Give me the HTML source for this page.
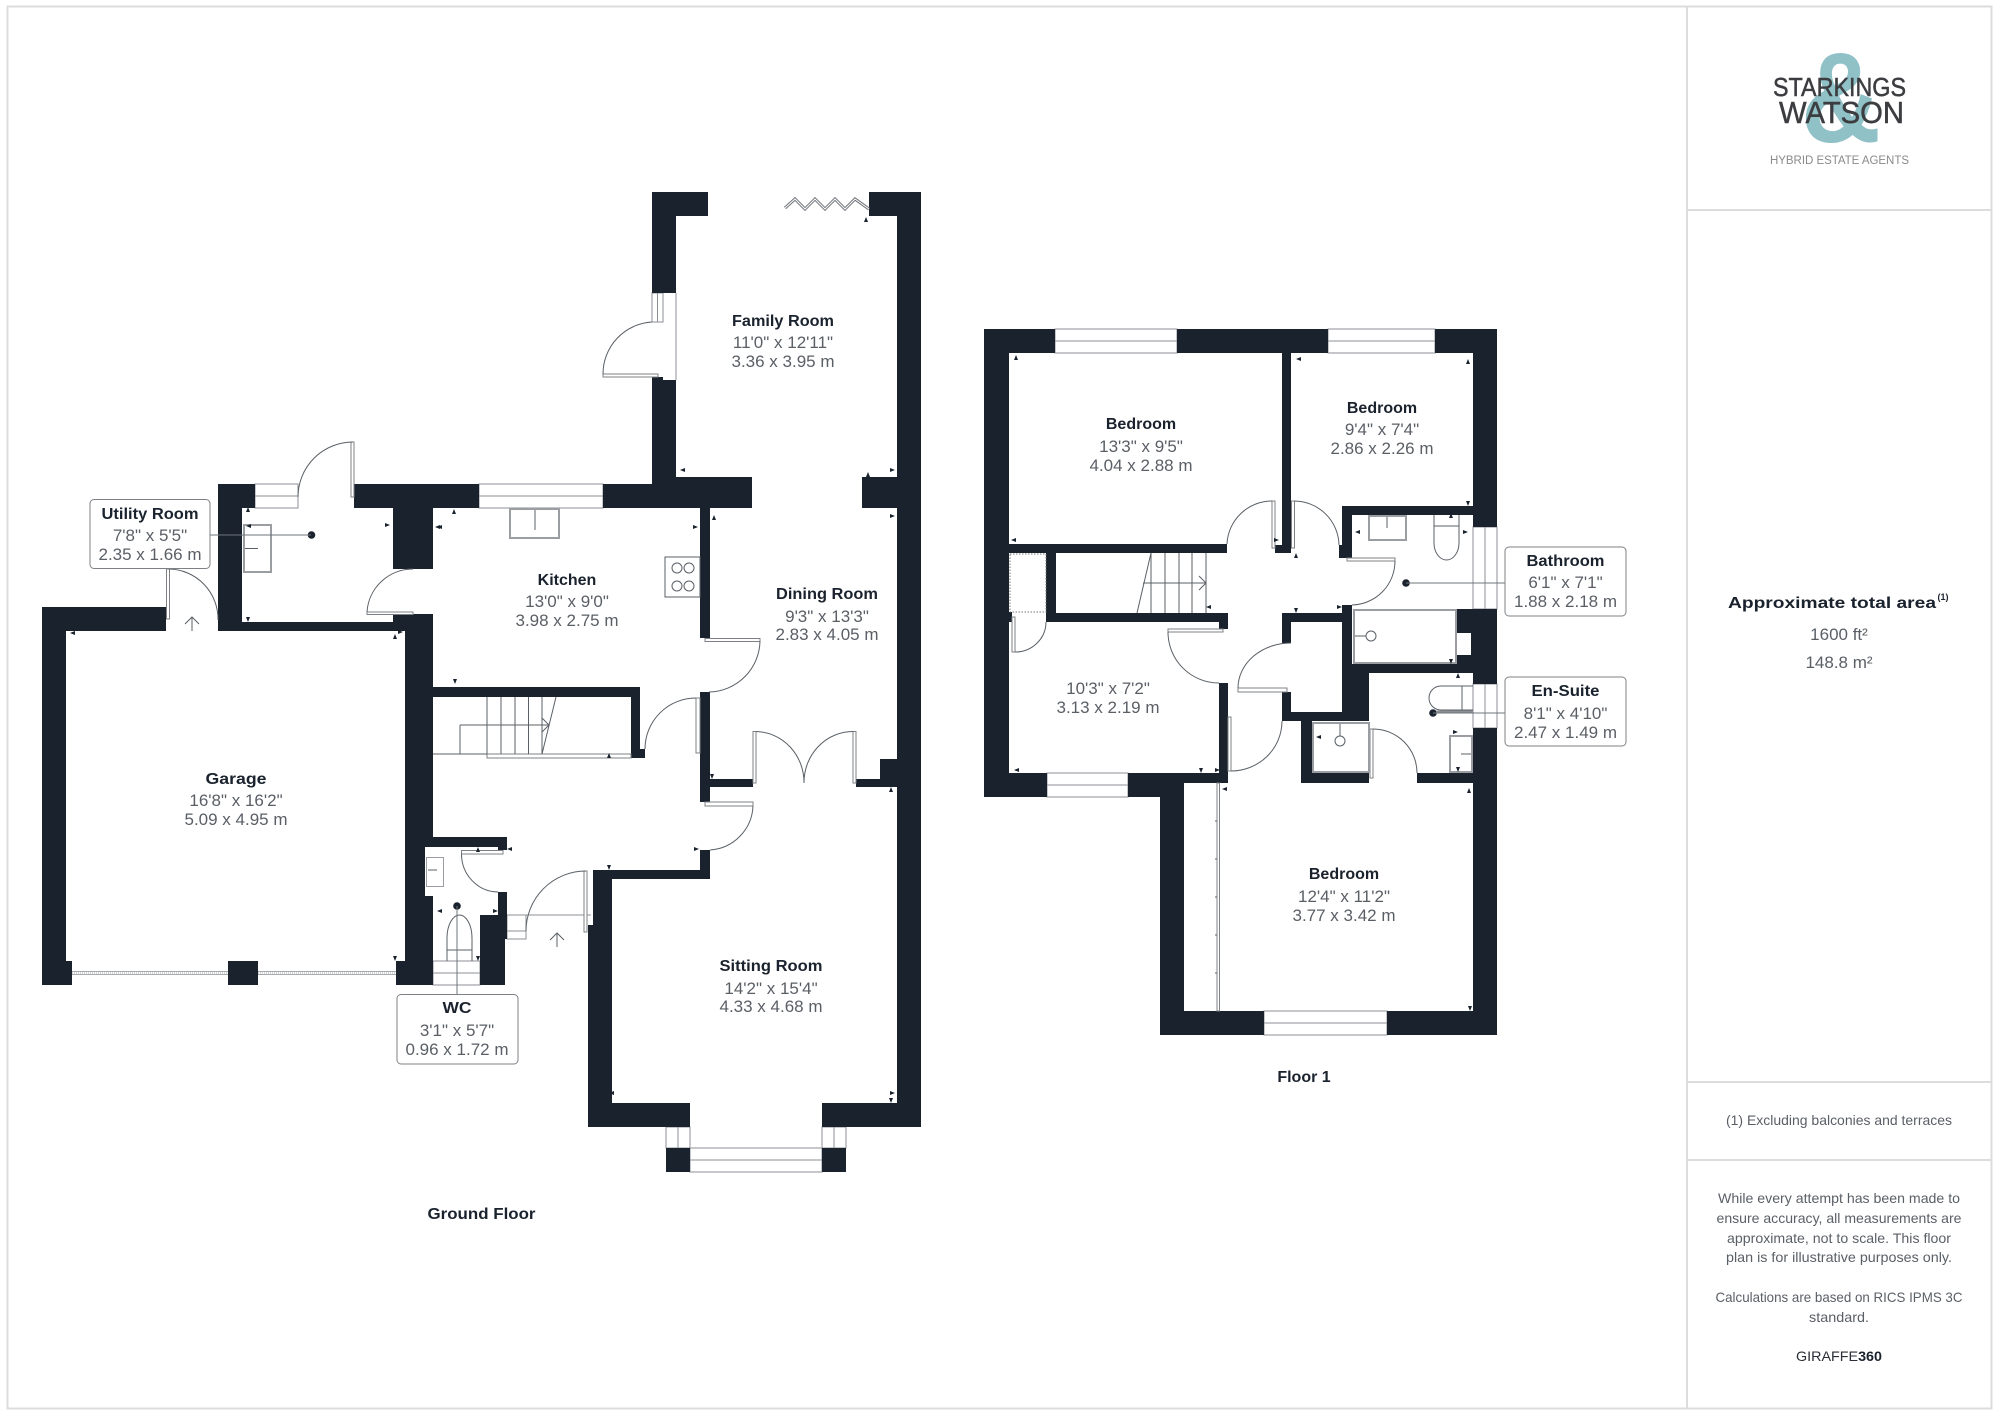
<!DOCTYPE html>
<html><head><meta charset="utf-8"><style>
html,body{margin:0;padding:0;background:#fff}
svg{display:block}
text{font-family:"Liberation Sans",sans-serif;text-anchor:middle}
.t{font-size:16px;font-weight:bold;fill:#1a222d}
.d{font-size:17px;fill:#5a5f66}
.s{font-size:13.6px;fill:#5a5f66}
.w rect{fill:#1a222d}
.l{fill:none;stroke:#5a6066;stroke-width:1}
.g{fill:#fff;stroke:#8b8f94;stroke-width:1}
.b{fill:#fff;stroke:#7d8186;stroke-width:1}
.f{fill:none;stroke:#9a9ea2;stroke-width:2}
</style></head><body>
<svg width="2000" height="1415" viewBox="0 0 2000 1415" xmlns="http://www.w3.org/2000/svg">
<rect width="2000" height="1415" fill="#fff"/>
<!-- frame -->
<g fill="none" stroke="#dcdcdc" stroke-width="2">
<rect x="7.5" y="6.5" width="1984" height="1402"/>
<path d="M1687 6V1408M1687 210H1992M1687 1082H1992M1687 1160H1992"/>
</g>
<!-- window and thin items below walls -->
<g class="g">
<rect x="255" y="484" width="43" height="24"/><path d="M255 496H298"/>
<rect x="479" y="484" width="124" height="24"/><path d="M479 496H603"/>
<rect x="652" y="293" width="11" height="29"/><path d="M657.500 293V322"/>
<path d="M676 293V380"/>
<rect x="433" y="961" width="47" height="24"/><path d="M433 973H480"/>
<rect x="507" y="915" width="19" height="24"/><path d="M507 931H526"/>
<path d="M507 915H591"/>
<rect x="690" y="1148" width="132" height="24"/><path d="M690 1160H822"/>
<rect x="666" y="1127" width="24" height="21"/><path d="M678 1127V1148"/>
<rect x="822" y="1127" width="24" height="21"/><path d="M834 1127V1148"/>
<rect x="1055" y="329" width="122" height="24"/><path d="M1055 341H1177"/>
<rect x="1328" y="329" width="107" height="24"/><path d="M1328 341H1435"/>
<rect x="1473" y="527" width="24" height="82"/><path d="M1485 527V609"/>
<rect x="1473" y="684" width="24" height="44"/><path d="M1485 684V728"/>
<rect x="1047" y="773" width="81" height="24"/><path d="M1047 785H1128"/>
<rect x="1264" y="1011" width="123" height="24"/><path d="M1264 1023H1387"/>
</g>
<!-- walls -->
<g class="w">
<rect x="42" y="607" width="124" height="24"/>
<rect x="42" y="607" width="24" height="378"/>
<rect x="42" y="961" width="30" height="24"/>
<rect x="228" y="961" width="30" height="24"/>
<rect x="396" y="961" width="37" height="24"/>
<rect x="405" y="631" width="28" height="216"/>
<rect x="405" y="847" width="20" height="49"/>
<rect x="405" y="896" width="28" height="89"/>
<rect x="218" y="484" width="24" height="147"/>
<rect x="218" y="484" width="37" height="24"/>
<rect x="354" y="484" width="125" height="24"/>
<rect x="393" y="508" width="40" height="61"/>
<rect x="218" y="622" width="175" height="9"/>
<rect x="393" y="614" width="40" height="17"/>
<rect x="603" y="484" width="73" height="24"/>
<rect x="652" y="192" width="24" height="101"/>
<rect x="652" y="192" width="56" height="24"/>
<rect x="652" y="377" width="11" height="3"/>
<rect x="652" y="380" width="24" height="104"/>
<rect x="676" y="477" width="76" height="31"/>
<rect x="862" y="477" width="35" height="31"/>
<rect x="897" y="192" width="24" height="935"/>
<rect x="869" y="192" width="28" height="24"/>
<rect x="700" y="508" width="10" height="130"/>
<rect x="433" y="687" width="207" height="10"/>
<rect x="631" y="697" width="9" height="61"/>
<rect x="631" y="749" width="14" height="9"/>
<rect x="700" y="692" width="10" height="110"/>
<rect x="710" y="779" width="43" height="8"/>
<rect x="856" y="779" width="41" height="8"/>
<rect x="880" y="759" width="17" height="28"/>
<rect x="700" y="850" width="10" height="29"/>
<rect x="593" y="870" width="117" height="9"/>
<rect x="593" y="870" width="19" height="55"/>
<rect x="588" y="925" width="24" height="202"/>
<rect x="588" y="1103" width="102" height="24"/>
<rect x="822" y="1103" width="99" height="24"/>
<rect x="666" y="1148" width="24" height="24"/>
<rect x="822" y="1148" width="24" height="24"/>
<rect x="433" y="837" width="74" height="10"/>
<rect x="498" y="847" width="9" height="3"/>
<rect x="498" y="892" width="9" height="47"/>
<rect x="480" y="915" width="27" height="24"/>
<rect x="480" y="939" width="25" height="46"/>
<!-- floor 1 -->
<rect x="984" y="329" width="71" height="24"/>
<rect x="1177" y="329" width="151" height="24"/>
<rect x="1435" y="329" width="62" height="24"/>
<rect x="984" y="329" width="25" height="468"/>
<rect x="1282" y="353" width="9" height="200"/>
<rect x="1275" y="545" width="16" height="8"/>
<rect x="1009" y="544" width="218" height="9"/>
<rect x="1046" y="553" width="10" height="69"/>
<rect x="1046" y="613" width="182" height="9"/>
<rect x="1219" y="613" width="9" height="16"/>
<rect x="1009" y="612" width="3" height="10"/>
<rect x="1219" y="683" width="9" height="99"/>
<rect x="1473" y="329" width="24" height="198"/>
<rect x="1342" y="506" width="131" height="9"/>
<rect x="1342" y="506" width="10" height="52"/>
<rect x="1339" y="545" width="5" height="13"/>
<rect x="1282" y="613" width="70" height="9"/>
<rect x="1282" y="622" width="9" height="21"/>
<rect x="1282" y="692" width="9" height="29"/>
<rect x="1282" y="712" width="87" height="9"/>
<rect x="1342" y="605" width="10" height="116"/>
<rect x="1342" y="664" width="27" height="57"/>
<rect x="1342" y="664" width="131" height="9"/>
<rect x="1456" y="609" width="41" height="55"/>
<rect x="1473" y="609" width="24" height="75"/>
<rect x="1473" y="728" width="24" height="307"/>
<rect x="1301" y="721" width="11" height="62"/>
<rect x="1301" y="773" width="68" height="10"/>
<rect x="1417" y="773" width="56" height="10"/>
<rect x="1160" y="1011" width="104" height="24"/>
<rect x="1387" y="1011" width="110" height="24"/>
<rect x="1160" y="773" width="24" height="262"/>
<rect x="984" y="773" width="63" height="24"/>
<rect x="1128" y="773" width="100" height="10"/>
<rect x="1128" y="783" width="56" height="14"/>
</g>
<rect x="1457" y="633" width="14" height="22" fill="#fff"/>
<!-- garage door -->
<g stroke="#a8abae" stroke-width="1">
<path d="M72 971.500H228M72 974.500H228M258 971.500H396M258 974.500H396"/>
<path d="M72 973H228M258 973H396" stroke-dasharray="1 1"/>
</g>
<!-- door leaves -->
<g class="b">
<rect x="351" y="442" width="3" height="55"/>
<rect x="166.500" y="569" width="3" height="50"/>
<rect x="367" y="612" width="46" height="2.500"/>
<rect x="603" y="374" width="55" height="3"/>
<rect x="705" y="638.500" width="55" height="3"/>
<rect x="696" y="698" width="4" height="55"/>
<rect x="705" y="802" width="48" height="4"/>
<rect x="753" y="731.500" width="3" height="51.500"/>
<rect x="853" y="731.500" width="3" height="51.500"/>
<rect x="461.500" y="850.500" width="41.500" height="3.500"/>
<rect x="584" y="871" width="3" height="61"/>
<rect x="487" y="754" width="144" height="4"/>
<rect x="1168" y="629" width="55" height="3"/>
<rect x="1012" y="617" width="3" height="35"/>
<rect x="1272" y="501" width="3" height="47"/>
<rect x="1291.500" y="501" width="3" height="47"/>
<rect x="1347" y="558" width="48" height="3"/>
<rect x="1228" y="717" width="3" height="54"/>
<rect x="1238" y="688" width="49" height="4"/>
<rect x="1370" y="729" width="3" height="49"/>
<rect x="1217" y="783" width="2.500" height="228"/>
</g>
<!-- arcs and fixture lines -->
<g class="l">
<path d="M298 497A55 55 0 0 1 353 442"/>
<path d="M169 569A50 50 0 0 1 218 620"/>
<path d="M413 569A46 46 0 0 0 367 612"/>
<path d="M652 322A52 52 0 0 0 603 374"/>
<path d="M760 641A52 52 0 0 1 709 692"/>
<path d="M696 698A51 51 0 0 0 645 749"/>
<path d="M753 806A46 46 0 0 1 710 850"/>
<path d="M756 731.500A49 51 0 0 1 804 783"/>
<path d="M853 731.500A49 51 0 0 0 804 783"/>
<path d="M461.500 854A37 38 0 0 0 498 892"/>
<path d="M526 931A60 60 0 0 1 586 871"/>
<path d="M1168 632A51 51 0 0 0 1219 683"/>
<path d="M1015 652A31 30 0 0 0 1046 622"/>
<path d="M1272 501A45 45 0 0 0 1227 544"/>
<path d="M1294 501A45 45 0 0 1 1339 545"/>
<path d="M1395 561A44 44 0 0 1 1352 605"/>
<path d="M1231 771A51 50 0 0 0 1282 721"/>
<path d="M1238 688A53 45 0 0 1 1291 643"/>
<path d="M1373 729A44 44 0 0 1 1417 773"/>
<!-- front arrows -->
<path d="M192 631V617M185 624L192 617L199 624"/>
<path d="M557 947V933M550 940L557 933L564 940"/>
<!-- bifold -->
<path d="M785 208L795 199L805 209L815 199L825 209L835 199L845 209L855 199L869 209" stroke-width="3" stroke="#6f747a"/>
<path d="M785 208L795 199L805 209L815 199L825 209L835 199L845 209L855 199L869 209" stroke="#fff" stroke-width="1"/>
<!-- stairs ground -->
<path d="M487 697V754M501 697V754M515 697V754M528.500 697V754M542 697V754M556 697L542 754M460 725H549M460 725V754M433 754H487M542 718L549 725L542 732"/>
<!-- stairs first -->
<path d="M1151 553V613M1165 553V613M1179 553V613M1192 553V613M1206 553V613M1151 553L1137 613M1143 583H1206M1199 576L1206 583L1199 590"/>
<!-- hob -->
<rect x="665" y="557" width="35" height="40"/>
<circle cx="677" cy="568" r="5"/><circle cx="689" cy="568" r="5"/><circle cx="677" cy="586" r="5"/><circle cx="689" cy="586" r="5"/>
<path d="M535 508V530M243 548.500H258"/>
<path d="M447 961V938A12.500 23 0 0 1 472 938V961M447 950H472"/>
<path d="M428 870H437"/>
<path d="M1434 515V543A12.500 17 0 0 0 1459 543V515M1434 526H1459"/>
<path d="M1387 515V528"/>
<path d="M1353 636H1366"/><circle cx="1371" cy="636" r="5"/>
<path d="M1340 722V736"/><circle cx="1340" cy="741" r="5"/>
<path d="M1473 686H1441A12 12 0 0 0 1441 710H1473M1462 686V710"/>
<path d="M1461 754H1473"/>
<path d="M1217 821h-2M1217 859h-2M1217 897h-2M1217 935h-2M1217 973h-2"/>
</g>
<!-- double gray fixtures -->
<g class="f">
<rect x="244" y="525" width="27" height="47"/>
<rect x="510" y="509" width="49" height="29"/>
<rect x="426.500" y="857.500" width="17" height="29" stroke-width="1"/>
<rect x="1369" y="516" width="37" height="24"/>
<rect x="1354" y="610" width="102" height="53"/>
<rect x="1313" y="723" width="56" height="49"/>
<rect x="1450" y="736" width="22" height="36"/>
</g>
<rect x="1010" y="554" width="36" height="58" fill="none" stroke="#777" stroke-width="1" stroke-dasharray="1.500 1.500"/>
<!-- tiny dimension ticks -->
<path fill="#1a222d" d="M248 507l-2 5h4zM246 526l5-2v4zM248 622l-2-5h4zM390 525l-5-2v4zM435 527l5-2v4zM454 509l-2 5h4zM70 633l5-2v4zM395 634l-2 5h4zM403 632l-5-2v4zM680 470l5-2v4zM866 217l-2 5h4zM895 470l-5-2v4zM868 472l-2 5h4zM714 515l-2 5h4zM895 516l-5-2v4zM698 527l-5-2v4zM437 527l5-2v4zM455 684l-2-5h4zM395 961l-2-5h4zM478 961l-2-5h4zM437 911l5-2v4zM498 911l-5-2v4zM478 847l-2 5h4zM507 849l5-2v4zM712 779l-2-5h4zM891 787l-2 5h4zM609 1093l5-2v4zM895 1093l-5-2v4zM891 1103l-2-5h4zM699 849l-5-2v4zM609 870l-2-5h4zM609 753l-2 5h4zM1016 355l-2 5h4zM1011 540l5-2v4zM1296 359l5-2v4zM1468 359l-2 5h4zM1468 506l-2-5h4zM1279 540l-5-2v4zM1296 553l-2 5h4zM1206 607l5-2v4zM1201 613l-2 5h4zM1296 613l-2-5h4zM1342 607l-5-2v4zM1355 532l5-2v4zM1468 532l-5-2v4zM1451 513l-2 5h4zM1451 664l-2-5h4zM1458 673l-2 5h4zM1458 732l-5-2v4zM1458 772l-2-5h4zM1014 770l5-2v4zM1201 773l-2-5h4zM1220 770l-5-2v4zM1222 789l5-2v4zM1469 788l-2 5h4zM1470 1011l-2-5h4zM1316 737l5-2v4z"/>
<!-- leader dots -->
<g fill="#1a222d">
<circle cx="311.500" cy="535" r="3.800"/>
<circle cx="457" cy="906" r="3.800"/>
<circle cx="1406" cy="583" r="3.800"/>
<circle cx="1433" cy="713" r="3.800"/>
</g>
<g stroke="#6f747a" stroke-width="1" fill="none">
<path d="M210 535H311M457 906V994M1406 583H1505"/>
<path d="M1433 713H1505"/>
</g>
<path d="M1436 711.500H1473" stroke="#8b8f94" stroke-width="2"/>
<!-- label boxes -->
<g fill="#fff" stroke="#7d8186" stroke-width="1">
<rect x="90" y="499.500" width="120" height="69" rx="4"/>
<rect x="397" y="994.500" width="121" height="69.500" rx="4"/>
<rect x="1505" y="547" width="121" height="69" rx="4"/>
<rect x="1505" y="677" width="121" height="69" rx="4"/>
</g>
<!-- labels -->
<text class="t" x="150" y="519" textLength="97" lengthAdjust="spacingAndGlyphs">Utility Room</text>
<text class="d" x="150" y="541">7'8" x 5'5"</text>
<text class="d" x="150" y="560">2.35 x 1.66 m</text>
<text class="t" x="783" y="326" textLength="102" lengthAdjust="spacingAndGlyphs">Family Room</text>
<text class="d" x="783" y="348">11'0" x 12'11"</text>
<text class="d" x="783" y="367">3.36 x 3.95 m</text>
<text class="t" x="567" y="585">Kitchen</text>
<text class="d" x="567" y="607">13'0" x 9'0"</text>
<text class="d" x="567" y="626">3.98 x 2.75 m</text>
<text class="t" x="827" y="599" textLength="102" lengthAdjust="spacingAndGlyphs">Dining Room</text>
<text class="d" x="827" y="622">9'3" x 13'3"</text>
<text class="d" x="827" y="640">2.83 x 4.05 m</text>
<text class="t" x="236" y="784" textLength="61" lengthAdjust="spacingAndGlyphs">Garage</text>
<text class="d" x="236" y="806">16'8" x 16'2"</text>
<text class="d" x="236" y="825">5.09 x 4.95 m</text>
<text class="t" x="771" y="971" textLength="103" lengthAdjust="spacingAndGlyphs">Sitting Room</text>
<text class="d" x="771" y="994">14'2" x 15'4"</text>
<text class="d" x="771" y="1012">4.33 x 4.68 m</text>
<text class="t" x="457" y="1013" textLength="29" lengthAdjust="spacingAndGlyphs">WC</text>
<text class="d" x="457" y="1036">3'1" x 5'7"</text>
<text class="d" x="457" y="1055">0.96 x 1.72 m</text>
<text class="t" x="481.500" y="1219" textLength="108" lengthAdjust="spacingAndGlyphs">Ground Floor</text>
<text class="t" x="1141" y="429">Bedroom</text>
<text class="d" x="1141" y="452">13'3" x 9'5"</text>
<text class="d" x="1141" y="471">4.04 x 2.88 m</text>
<text class="t" x="1382" y="413">Bedroom</text>
<text class="d" x="1382" y="435">9'4" x 7'4"</text>
<text class="d" x="1382" y="454">2.86 x 2.26 m</text>
<text class="d" x="1108" y="694">10'3" x 7'2"</text>
<text class="d" x="1108" y="713">3.13 x 2.19 m</text>
<text class="t" x="1344" y="879">Bedroom</text>
<text class="d" x="1344" y="902">12'4" x 11'2"</text>
<text class="d" x="1344" y="921">3.77 x 3.42 m</text>
<text class="t" x="1304" y="1082">Floor 1</text>
<text class="t" x="1565.500" y="566" textLength="78" lengthAdjust="spacingAndGlyphs">Bathroom</text>
<text class="d" x="1565.500" y="588">6'1" x 7'1"</text>
<text class="d" x="1565.500" y="607">1.88 x 2.18 m</text>
<text class="t" x="1565.500" y="696" textLength="68" lengthAdjust="spacingAndGlyphs">En-Suite</text>
<text class="d" x="1565.500" y="719">8'1" x 4'10"</text>
<text class="d" x="1565.500" y="738">2.47 x 1.49 m</text>
<!-- logo -->
<text x="1841" y="142" font-size="128" font-weight="bold" fill="#8fc1c7" textLength="80" lengthAdjust="spacingAndGlyphs">&amp;</text>
<text x="1839.500" y="96" font-size="26" fill="#3c3d40" stroke="#3c3d40" stroke-width=".5" textLength="133" lengthAdjust="spacingAndGlyphs">STARKINGS</text>
<text x="1841.500" y="123" font-size="31" fill="#3c3d40" stroke="#3c3d40" stroke-width=".5" textLength="125" lengthAdjust="spacingAndGlyphs">WATSON</text>
<text x="1839.500" y="164" font-size="11.500" fill="#8a8a8a" textLength="139" lengthAdjust="spacing">HYBRID ESTATE AGENTS</text>
<!-- right panel -->
<text x="1832" y="608" font-size="16" font-weight="bold" fill="#1a222d" textLength="208" lengthAdjust="spacingAndGlyphs">Approximate total area</text>
<text x="1943" y="600" font-size="9" font-weight="bold" fill="#1a222d">(1)</text>
<text class="s" x="1839" y="640" style="font-size:17px">1600 ft²</text>
<text class="s" x="1839" y="668" style="font-size:17px">148.8 m²</text>
<text class="s" x="1839" y="1125" textLength="226" lengthAdjust="spacingAndGlyphs">(1) Excluding balconies and terraces</text>
<text class="s" x="1839" y="1203" textLength="242" lengthAdjust="spacingAndGlyphs">While every attempt has been made to</text>
<text class="s" x="1839" y="1223" textLength="245" lengthAdjust="spacingAndGlyphs">ensure accuracy, all measurements are</text>
<text class="s" x="1839" y="1243" textLength="224" lengthAdjust="spacingAndGlyphs">approximate, not to scale. This floor</text>
<text class="s" x="1839" y="1262" textLength="226" lengthAdjust="spacingAndGlyphs">plan is for illustrative purposes only.</text>
<text class="s" x="1839" y="1302" textLength="247" lengthAdjust="spacingAndGlyphs">Calculations are based on RICS IPMS 3C</text>
<text class="s" x="1839" y="1322" textLength="60" lengthAdjust="spacingAndGlyphs">standard.</text>
<text x="1839" y="1361" font-size="14" fill="#2a2f36" textLength="86" lengthAdjust="spacingAndGlyphs">GIRAFFE<tspan font-weight="bold" fill="#1a222d">360</tspan></text>
</svg>
</body></html>
